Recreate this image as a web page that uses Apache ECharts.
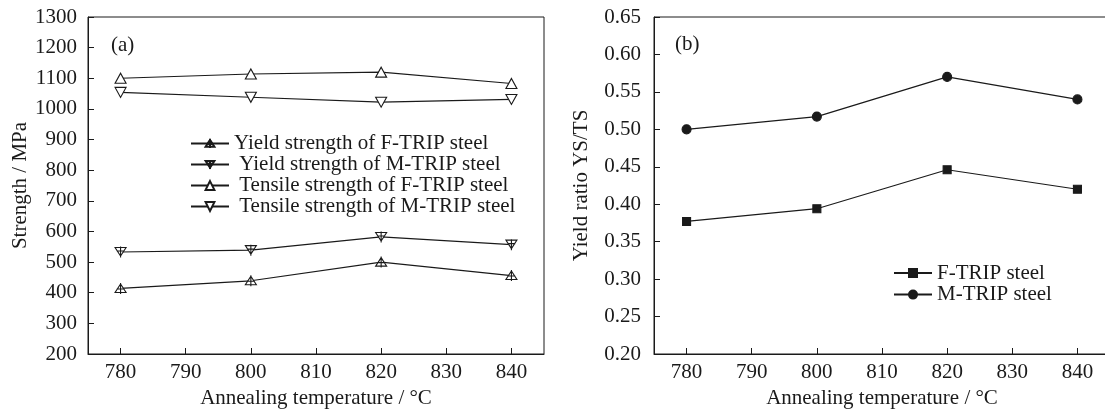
<!DOCTYPE html>
<html>
<head>
<meta charset="utf-8">
<script src="https://cdn.jsdelivr.net/npm/echarts@6/dist/echarts.min.js"></script>
<style>
html,body{margin:0;padding:0;background:#fff;}
#c{width:1105px;height:414px;}
</style>
</head>
<body>
<div id="c"></div>
<script>
// ---- data ----
const temps = [780, 800, 820, 840];
const ysF = [414, 439, 500, 456];   // Yield strength of F-TRIP steel
const ysM = [533, 539, 582, 557];   // Yield strength of M-TRIP steel
const tsF = [1100, 1114, 1120, 1083]; // Tensile strength of F-TRIP steel
const tsM = [1054, 1038, 1022, 1031]; // Tensile strength of M-TRIP steel
const yrF = [0.377, 0.394, 0.446, 0.420]; // Yield ratio F-TRIP
const yrM = [0.500, 0.517, 0.570, 0.540]; // Yield ratio M-TRIP
const leftNames = ['Yield strength of F-TRIP steel', ' Yield strength of M-TRIP steel', ' Tensile strength of F-TRIP steel', ' Tensile strength of M-TRIP steel'];
const rightNames = ['F-TRIP steel', 'M-TRIP steel'];

const FONT = '"Liberation Serif", "Times New Roman", serif';
const INK = '#1a1a1a';
const FS = 21;

const pair = (xs, ys) => xs.map((x, i) => [x, ys[i]]);

const SYM_UP_CROSS = 'path://M5 1 L10 9.5 L0 9.5 Z M5 0 L5 11 M1.5 6 L8.5 6';
const SYM_DN_CROSS = 'path://M5 9.5 L10 1 L0 1 Z M5 11 L5 0 M1.5 4.5 L8.5 4.5';
const SYM_DN = 'path://M0 0 L10 0 L5 9 Z';

function xAx(gi) {
  return {
    gridIndex: gi, type: 'value', min: 775, max: 845,
    name: 'Annealing temperature / °C', nameLocation: 'middle', nameGap: 31,
    nameTextStyle: {fontFamily: FONT, fontSize: FS, color: INK},
    axisLine: {show: true, lineStyle: {color: INK, width: 1}},
    axisTick: {show: true, inside: true, length: 6, lineStyle: {color: INK}},
    axisLabel: {fontFamily: FONT, fontSize: FS, color: INK, margin: 8, showMinLabel: false, showMaxLabel: false},
    splitLine: {show: false}
  };
}

function yAx(gi, min, max, interval, name, gap, margin, fmt) {
  return {
    gridIndex: gi, type: 'value', min: min, max: max, interval: interval,
    name: name, nameLocation: 'middle', nameGap: gap,
    nameTextStyle: {fontFamily: FONT, fontSize: FS, color: INK},
    axisLine: {show: true, lineStyle: {color: INK, width: 1}},
    axisTick: {show: true, inside: true, length: 6, lineStyle: {color: INK}},
    axisLabel: {fontFamily: FONT, fontSize: FS, color: INK, margin: margin, formatter: fmt},
    splitLine: {show: false}
  };
}

function lineSeries(name, xi, data, symbol, size, fill) {
  return {
    type: 'line', name: name, xAxisIndex: xi, yAxisIndex: xi,
    data: data, symbol: symbol, symbolSize: size, showSymbol: true,
    lineStyle: {color: INK, width: 1.2},
    itemStyle: {color: fill, borderColor: INK, borderWidth: 1.1},
    emphasis: {disabled: true}, animation: false, z: 3
  };
}

const chart = echarts.init(document.getElementById('c'), null, {renderer: 'canvas'});
chart.setOption({
  animation: false,
  backgroundColor: '#fff',
  textStyle: {fontFamily: FONT, color: INK},
  grid: [
    {left: 88, top: 17, width: 456, height: 337, show: true, borderColor: INK, borderWidth: 1, backgroundColor: 'transparent', outerBoundsMode: 'none', containLabel: false},
    {left: 654, top: 17, width: 456, height: 337, show: true, borderColor: INK, borderWidth: 1, backgroundColor: 'transparent', outerBoundsMode: 'none', containLabel: false}
  ],
  xAxis: [xAx(0), xAx(1)],
  yAxis: [
    yAx(0, 200, 1300, 100, 'Strength / MPa', 57, 11, v => String(v)),
    yAx(1, 0.2, 0.65, 0.05, 'Yield ratio YS/TS', 62, 13, v => v.toFixed(2))
  ],
  legend: [
    {
      data: leftNames, orient: 'vertical', left: 190, top: 133, padding: 0,
      itemWidth: 38, itemHeight: 11, itemGap: 0, itemTextGap: 3,
      textStyle: {fontFamily: FONT, fontSize: FS, color: INK, lineHeight: 19.7},
      selectedMode: false
    },
    {
      data: rightNames, orient: 'vertical', left: 893, top: 262.5, padding: 0,
      itemWidth: 38, itemHeight: 10, itemGap: 0.6, itemTextGap: 4,
      textStyle: {fontFamily: FONT, fontSize: FS, color: INK, lineHeight: 20},
      selectedMode: false
    }
  ],
  graphic: [
    {type: 'text', left: 111, top: 35, style: {text: '(a)', fontFamily: FONT, fontSize: FS, fill: INK}},
    {type: 'text', left: 675, top: 34, style: {text: '(b)', fontFamily: FONT, fontSize: FS, fill: INK}}
  ],
  series: [
    lineSeries(leftNames[0], 0, pair(temps, ysF), SYM_UP_CROSS, [11, 11], '#fff'),
    lineSeries(leftNames[1], 0, pair(temps, ysM), SYM_DN_CROSS, [11, 11], '#fff'),
    lineSeries(leftNames[2], 0, pair(temps, tsF), 'triangle', [11, 10], '#fff'),
    lineSeries(leftNames[3], 0, pair(temps, tsM), SYM_DN, [11, 10], '#fff'),
    lineSeries(rightNames[0], 1, pair(temps, yrF), 'rect', 8, INK),
    lineSeries(rightNames[1], 1, pair(temps, yrM), 'circle', 9, INK)
  ]
});
</script>
</body>
</html>
